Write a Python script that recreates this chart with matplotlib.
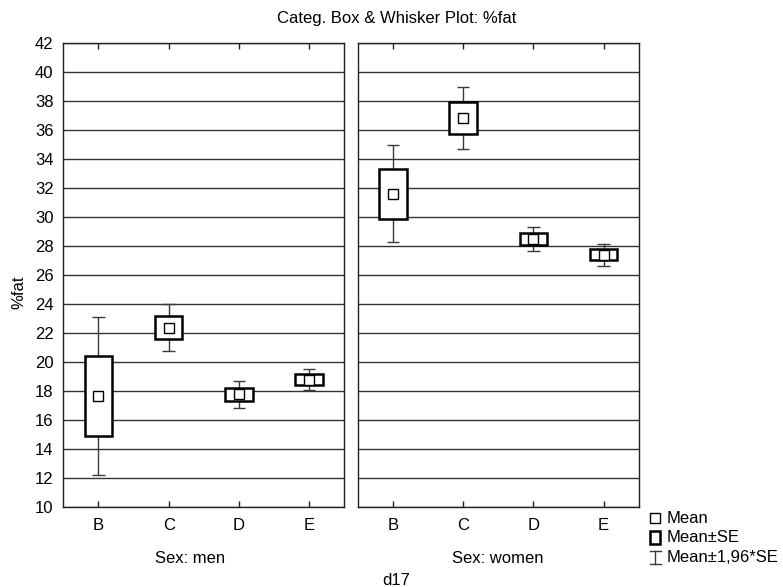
import matplotlib
matplotlib.use("Agg")
import matplotlib.pyplot as plt
from matplotlib.patches import Rectangle
from matplotlib.lines import Line2D

plt.rcParams['font.family'] = ['Liberation Sans', 'DejaVu Sans']
plt.rcParams['font.size'] = 12

# --- data -------------------------------------------------------------
groups = ["B", "C", "D", "E"]
panel_titles = ["Sex: men", "Sex: women"]
men_mean = [17.66, 22.38, 17.78, 18.78]
men_se = [2.78, 0.82, 0.47, 0.37]
women_mean = [31.61, 36.83, 28.47, 27.40]
women_se = [1.72, 1.09, 0.43, 0.39]
z_factor = 1.96
y_ticks = list(range(10, 43, 2))

W, H = 783, 587
fig = plt.figure(figsize=(W / 100, H / 100), dpi=100)

grid_col = "#333333"
whisk_col = "#3a3a3a"


def px_box(x0, x1, top, bottom):
    return [x0 / W, 1 - bottom / H, (x1 - x0) / W, (bottom - top) / H]


ax_men = fig.add_axes(px_box(63.3, 344.3, 42.7, 507.3))
ax_women = fig.add_axes(px_box(357.7, 638.7, 42.7, 507.3))

positions = list(range(1, len(groups) + 1))
box_w = 0.39
cap_half = 0.09

for ax, means, ses in [(ax_men, men_mean, men_se), (ax_women, women_mean, women_se)]:
    ax.set_xlim(0.5, len(groups) + 0.5)
    ax.set_ylim(10, 42)
    ax.set_yticks(y_ticks)
    ax.yaxis.grid(True, color=grid_col, linewidth=1.0)
    ax.set_axisbelow(True)
    for s in ax.spines.values():
        s.set_color("#222222")
        s.set_linewidth(1.0)
    ax.set_xticks(positions)
    ax.set_xticklabels(groups)
    ax.tick_params(axis="x", direction="in", length=4, width=1, top=True,
                   pad=8, color="#222222")
    ax.tick_params(axis="y", length=0, pad=7)

    lo = [m - z_factor * s for m, s in zip(means, ses)]
    hi = [m + z_factor * s for m, s in zip(means, ses)]
    # whiskers: Mean +/- 1.96*SE
    ax.vlines(positions, lo, hi, color=whisk_col, linewidth=1.0, zorder=3)
    ax.hlines(lo, [p - cap_half for p in positions], [p + cap_half for p in positions],
              color=whisk_col, linewidth=1.0, zorder=3)
    ax.hlines(hi, [p - cap_half for p in positions], [p + cap_half for p in positions],
              color=whisk_col, linewidth=1.0, zorder=3)
    # boxes: Mean +/- SE
    ax.bar(positions, [2 * s for s in ses], bottom=[m - s for m, s in zip(means, ses)],
           width=box_w, facecolor="white", edgecolor="black", linewidth=1.8, zorder=4)
    # mean marker
    ax.plot(positions, means, linestyle="none", marker="s", markersize=6.5,
            markerfacecolor="white", markeredgecolor="black", markeredgewidth=1.0,
            zorder=5)

ax_women.set_yticklabels([])

# figure-level labels
fig.text(396.5 / W, 1 - 23.3 / H, "Categ. Box & Whisker Plot: %fat",
         ha="center", va="baseline")
fig.text(190 / W, 1 - 563.3 / H, panel_titles[0], ha="center", va="baseline")
fig.text(498 / W, 1 - 563.3 / H, panel_titles[1], ha="center", va="baseline")
fig.text(396 / W, 1 - 585 / H, "d17", ha="center", va="baseline")
fig.text(18.5 / W, 1 - 292 / H, "%fat", ha="center", va="center", rotation=90)

# legend drawn in pixel coordinates on an overlay
lg = fig.add_axes([0, 0, 1, 1], facecolor="none")
lg.set_xlim(0, W)
lg.set_ylim(H, 0)
lg.axis("off")
lg.add_line(Line2D([655], [517.5], marker="s", markersize=6.5, markerfacecolor="white",
                   markeredgecolor="black", markeredgewidth=1.0, linestyle="none"))
lg.add_patch(Rectangle((649.5, 531), 10.5, 13, facecolor="white", edgecolor="black",
                       linewidth=1.8))
lg.add_line(Line2D([655, 655], [550.5, 563.5], color=whisk_col, linewidth=1.0))
lg.add_line(Line2D([649.5, 660.5], [550.5, 550.5], color=whisk_col, linewidth=1.0))
lg.add_line(Line2D([649.5, 660.5], [563.5, 563.5], color=whisk_col, linewidth=1.0))
for txt, yb in [("Mean", 522.7), ("Mean±SE", 542.2), ("Mean±1,96*SE", 561.7)]:
    lg.text(667, yb, txt, ha="left", va="baseline")

fig.savefig("out.png", dpi=100)
